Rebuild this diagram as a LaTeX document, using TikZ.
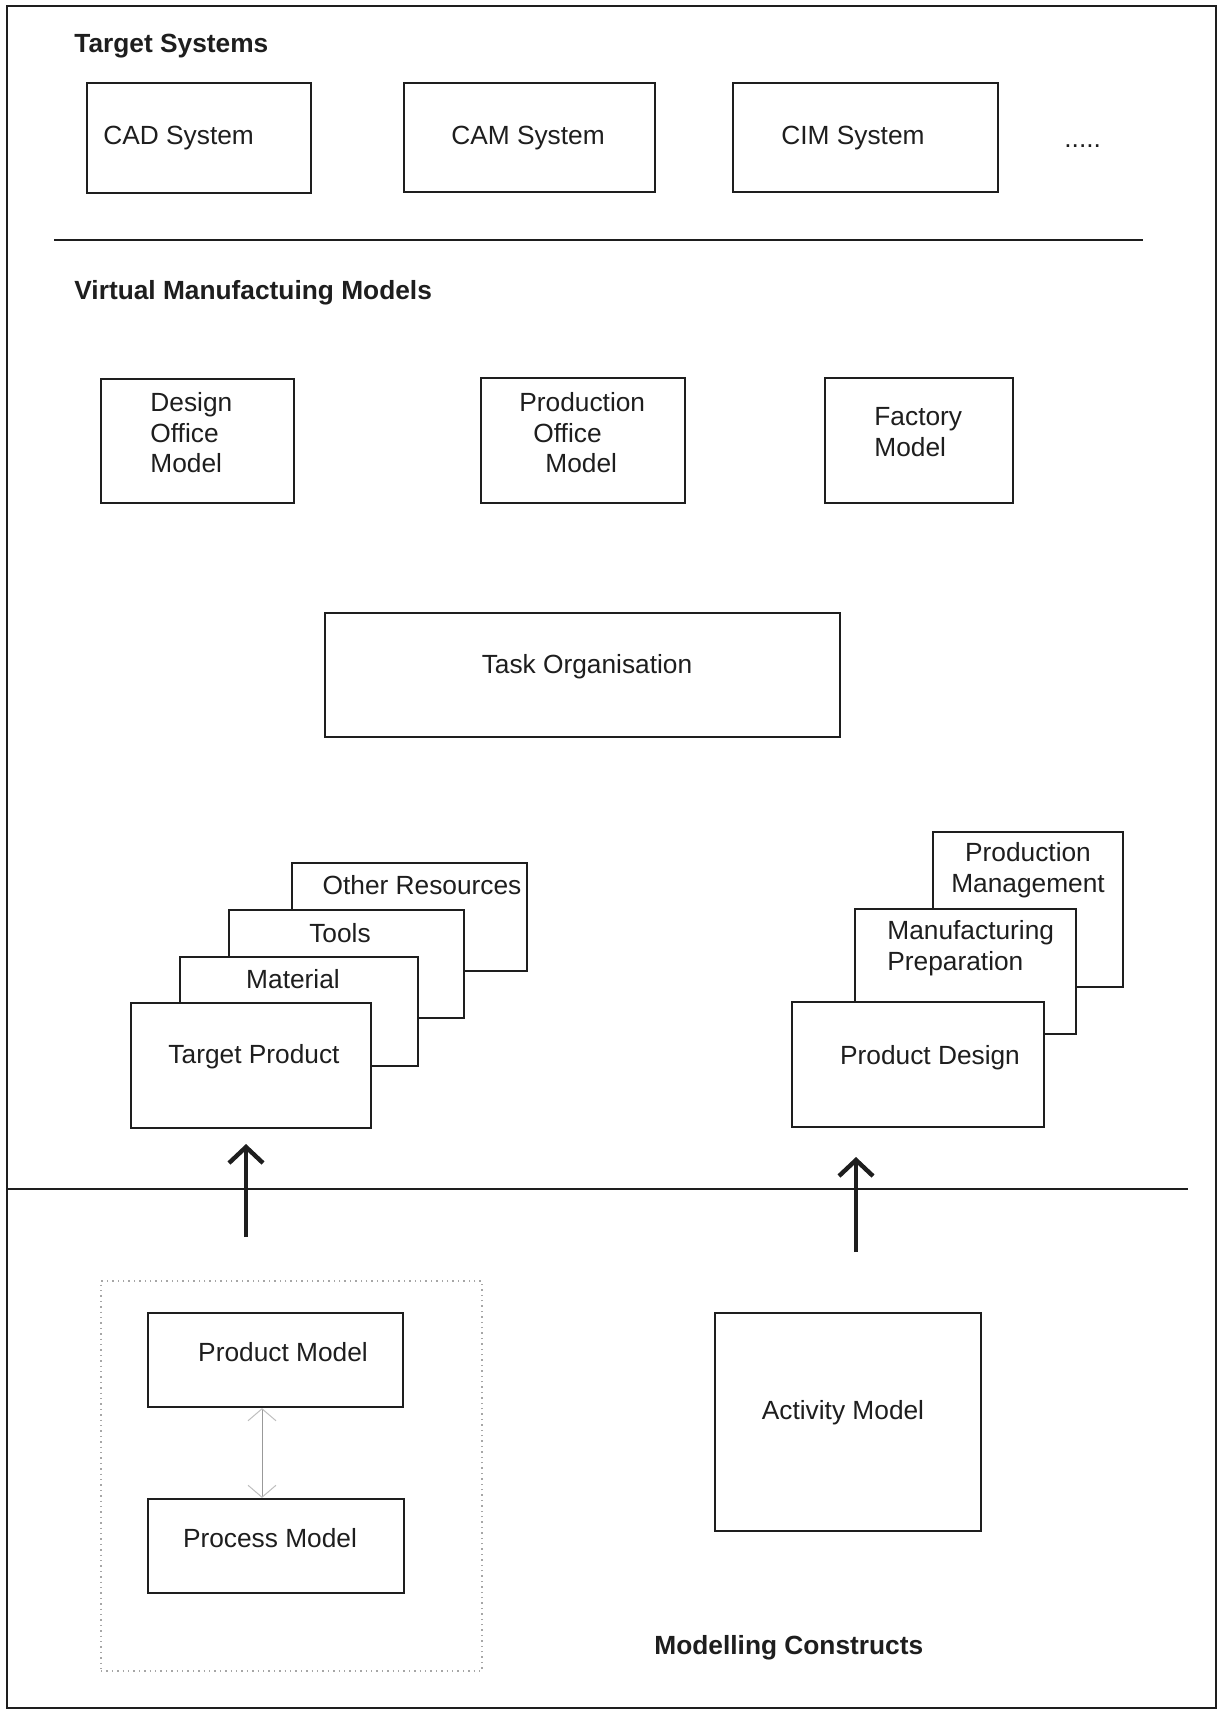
\documentclass[tikz,border=0pt]{standalone}
\usepackage{fontspec}
\setmainfont{Liberation Sans}
\usetikzlibrary{fit,arrows.meta}
\definecolor{ink}{RGB}{30,30,30}
\tikzset{
  boxst/.style={draw=ink, line width=1.1pt, fill=white, inner sep=0pt},
  lbl/.style={text=ink, inner sep=0pt, font=\fontsize{13.15}{15.25}\selectfont},
  ttl/.style={text=ink, inner sep=0pt, font=\bfseries\fontsize{13.15}{15.25}\selectfont},
  sepline/.style={draw=ink, line width=1pt},
  bigarrow/.style={draw=ink, line width=2.2pt, -{Straight Barb[length=8pt,width=17pt]}},
  dblarrow/.style={draw=gray!80, line width=0.5pt, {Straight Barb[length=6pt,width=14pt,color=gray!50]}-{Straight Barb[length=6pt,width=14pt,color=gray!50]}},
  dotbox/.style={draw=gray!70, line width=0.7pt, dotted, inner sep=0pt}
}
\begin{document}
\begin{tikzpicture}[x=0.5pt,y=-0.5pt]
\useasboundingbox (0,0) rectangle (1219,1714);
\node[fit={(7,6)(1216,1708)}, draw=ink, line width=1pt, inner sep=0pt] (frame) {};

% Target systems
\node[ttl, anchor=west] (tstitle) at (74,46) {Target Systems};
\node[boxst, fit={(87,83)(311,193)}] (cad) {};
\node[boxst, fit={(404,83)(655,192)}] (cam) {};
\node[boxst, fit={(733,83)(998,192)}] (cim) {};
\node[lbl, anchor=west] (cadt) at (103,138) {CAD System};
\node[lbl] (camt) at (528,138) {CAM System};
\node[lbl, anchor=west] (cimt) at (781,138) {CIM System};
\node[lbl, anchor=base west] (dots) at (1064,147) {.....};

\coordinate (s1a) at (54,240);
\coordinate (s1b) at (1143,240);
\draw[sepline] (s1a) -- (s1b);

% Virtual manufacturing models
\node[ttl, anchor=west] (vmtitle) at (74,293) {Virtual Manufactuing Models};
\node[boxst, fit={(101,379)(294,503)}] (dom) {};
\node[boxst, fit={(481,378)(685,503)}] (pom) {};
\node[boxst, fit={(825,378)(1013,503)}] (fm) {};
\node[lbl, anchor=west, align=left] (domt) at (150,433) {Design\\Office\\Model};
\node[lbl, anchor=west, align=left] (pomt) at (519,433) {Production\\\hspace*{7pt}Office\\\hspace*{13pt}Model};
\node[lbl, anchor=west, align=left] (fmt) at (874,432) {Factory\\Model};

\node[boxst, fit={(325,613)(840,737)}] (task) {};
\node[lbl] (taskt) at (587,667) {Task Organisation};

% left stack
\node[boxst, fit={(292,863)(527,971)}] (oth) {};
\node[lbl] (otht) at (422,885) {Other Resources};
\node[boxst, fit={(229,910)(464,1018)}] (tools) {};
\node[lbl] (toolst) at (340,933) {Tools};
\node[boxst, fit={(180,957)(418,1066)}] (mat) {};
\node[lbl] (matt) at (293,979) {Material};
\node[boxst, fit={(131,1003)(371,1128)}] (tp) {};
\node[lbl] (tpt) at (254,1057) {Target Product};

% right stack
\node[boxst, fit={(933,832)(1123,987)}] (pm) {};
\node[lbl, align=center] (pmt) at (1028,870) {Production\\Management};
\node[boxst, fit={(855,909)(1076,1034)}] (mp) {};
\node[lbl, anchor=west, align=left] (mpt) at (887,948) {Manufacturing\\Preparation};
\node[boxst, fit={(792,1002)(1044,1127)}] (pd) {};
\node[lbl] (pdt) at (930,1058) {Product Design};

% separator and arrows
\coordinate (s2a) at (7,1189);
\coordinate (s2b) at (1188,1189);
\draw[sepline] (s2a) -- (s2b);
\coordinate (a1s) at (246,1237);
\coordinate (a1e) at (246,1144);
\draw[bigarrow] (a1s) -- (a1e);
\coordinate (a2s) at (856,1252);
\coordinate (a2e) at (856,1157);
\draw[bigarrow] (a2s) -- (a2e);

% modelling constructs
\node[dotbox, fit={(101,1281)(482,1671)}] (grp) {};
\node[boxst, fit={(148,1313)(403,1407)}] (prodm) {};
\node[lbl] (prodmt) at (283,1352) {Product Model};
\node[boxst, fit={(148,1499)(404,1593)}] (procm) {};
\node[lbl] (procmt) at (270,1538) {Process Model};
\draw[dblarrow] ([xshift=-6.75pt]prodm.south) -- ([xshift=-7pt]procm.north);

\node[boxst, fit={(715,1313)(981,1531)}] (act) {};
\node[lbl] (actt) at (843,1413) {Activity Model};
\node[ttl, anchor=west] (mctitle) at (654,1648) {Modelling Constructs};
\end{tikzpicture}
\end{document}
